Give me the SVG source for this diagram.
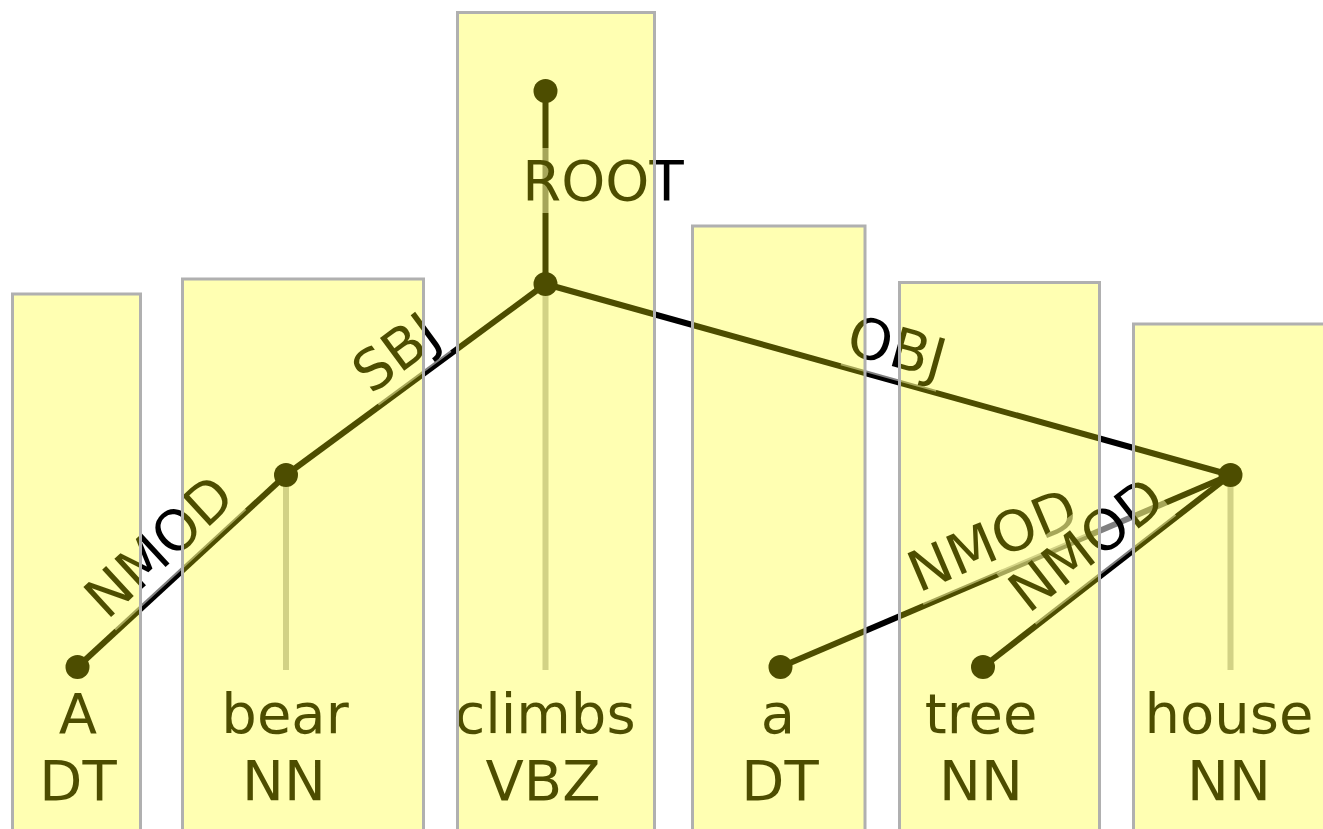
<svg xmlns="http://www.w3.org/2000/svg" width="1323" height="829" viewBox="0 0 1323 829">
<style>
text { font-family: "DejaVu Sans", "Liberation Sans", sans-serif; font-size: 56px; fill: #000; }
.word { text-anchor: middle; }
.lbl { text-anchor: middle; }
.edge { stroke: #000; stroke-width: 6; fill: none; }
.stem { stroke: #bfbfbf; stroke-width: 6; fill: none; }
.bg { fill: #fff; fill-opacity: 0.5; }
.dot { fill: #000; }
.box { fill: #ffff00; fill-opacity: 0.3; stroke: #b0b0b0; stroke-width: 3; }
</style>
<rect width="1323" height="829" fill="#fff"/>
<g id="stems">
<line class="stem" x1="286" y1="475" x2="286" y2="670"/>
<line class="stem" x1="545.5" y1="284" x2="545.5" y2="670"/>
<line class="stem" x1="1230.5" y1="475" x2="1230.5" y2="670"/>
</g>
<g id="connectors">
<line class="edge" x1="545.5" y1="91" x2="545.5" y2="284"/>
<line class="edge" x1="286" y1="475" x2="545.5" y2="284"/>
<line class="edge" x1="545.5" y1="284" x2="1230.5" y2="475"/>
<line class="edge" x1="77.5" y1="667" x2="286" y2="475"/>
<line class="edge" x1="780.5" y1="667" x2="1230.5" y2="475"/>
<line class="edge" x1="983" y1="667" x2="1230.5" y2="475"/>
<g id="label-root">
<rect class="bg" x="522.5" y="148" width="161" height="65"/>
<text class="lbl" x="603" y="200">ROOT</text>
</g>
<g id="label-sbj" transform="translate(415.8,379.5) rotate(-36.4)">
<rect class="bg" x="-45" y="-66" width="90" height="65"/>
<text class="lbl" x="0" y="-14">SBJ</text>
</g>
<g id="label-obj" transform="translate(888,379.5) rotate(15.6)">
<rect class="bg" x="-49.5" y="-66" width="99" height="65"/>
<text class="lbl" x="0" y="-14">OBJ</text>
</g>
<g id="label-nmod1" transform="translate(181.8,571) rotate(-42.7)">
<rect class="bg" x="-88.7" y="-66" width="177.4" height="65"/>
<text class="lbl" x="0" y="-14">NMOD</text>
</g>
<g id="label-nmod2" transform="translate(1005.5,571) rotate(-23.1)">
<rect class="bg" x="-88.7" y="-66" width="177.4" height="65"/>
<text class="lbl" x="0" y="-14">NMOD</text>
</g>
<g id="label-nmod3" transform="translate(1106.8,571) rotate(-37.9)">
<rect class="bg" x="-88.7" y="-66" width="177.4" height="65"/>
<text class="lbl" x="0" y="-14">NMOD</text>
</g>
</g>
<g id="node-root"><circle class="dot" cx="545.5" cy="91" r="12"/></g>
<g id="node-A"><circle class="dot" cx="77.5" cy="667" r="12"/><text class="word" x="78" y="733">A</text><text class="word" x="78" y="800">DT</text></g>
<g id="node-bear"><circle class="dot" cx="286" cy="475" r="12"/><text class="word" x="285" y="733">bear</text><text class="word" x="284" y="800">NN</text></g>
<g id="node-climbs"><circle class="dot" cx="545.5" cy="284" r="12"/><text class="word" x="545" y="733">climbs</text><text class="word" x="543" y="800">VBZ</text></g>
<g id="node-a"><circle class="dot" cx="780.5" cy="667" r="12"/><text class="word" x="778" y="733">a</text><text class="word" x="780" y="800">DT</text></g>
<g id="node-tree"><circle class="dot" cx="983" cy="667" r="12"/><text class="word" x="981" y="733">tree</text><text class="word" x="981" y="800">NN</text></g>
<g id="node-house"><circle class="dot" cx="1230.5" cy="475" r="12"/><text class="word" x="1229" y="733">house</text><text class="word" x="1229" y="800">NN</text></g>
<g id="boxes">
<rect class="box" x="12.5" y="294" width="128" height="600"/>
<rect class="box" x="182.5" y="279" width="241" height="600"/>
<rect class="box" x="457.5" y="12.5" width="197" height="900"/>
<rect class="box" x="692.5" y="226" width="172.5" height="700"/>
<rect class="box" x="899.5" y="282.5" width="200" height="600"/>
<rect class="box" x="1133.5" y="324" width="200" height="600"/>
</g>
</svg>
